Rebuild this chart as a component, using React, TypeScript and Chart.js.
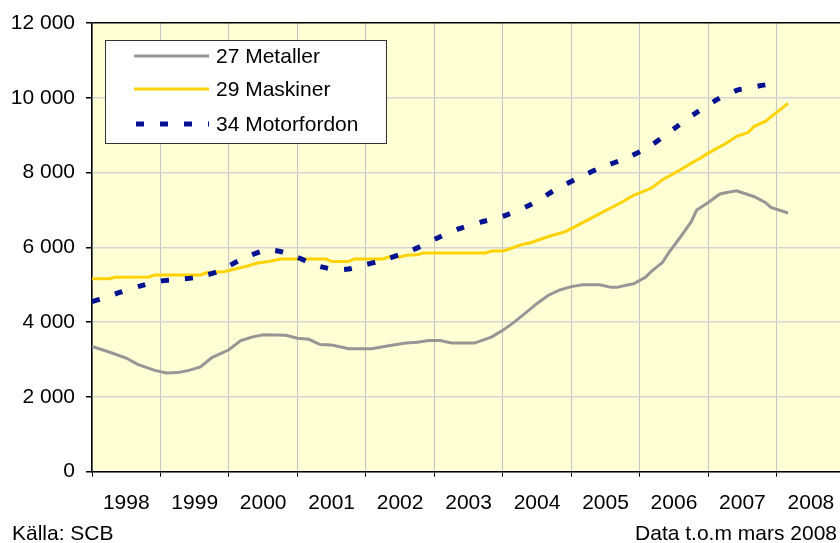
import React, { useEffect, useRef } from "react";
import { Chart, registerables } from "chart.js";

Chart.register(...registerables);

// Month index: 0 = Jan 1998
const yearLabels = ["1998", "1999", "2000", "2001", "2002", "2003", "2004", "2005", "2006", "2007", "2008"];

const metallerMonths = [0, 3, 6, 8, 11, 13, 15, 17, 19, 21, 24, 26, 28, 30, 34, 36, 38, 40, 42, 45, 49, 52, 55, 57, 59, 61, 63, 67, 70, 72, 74, 76, 78, 80, 82, 84, 86, 89, 91, 92, 94, 95, 97, 98, 100, 101, 103, 105, 106, 108, 110, 111, 113, 114, 116, 118, 119, 122];
const metallerValues = [3350, 3200, 3040, 2870, 2710, 2640, 2650, 2710, 2800, 3050, 3260, 3500, 3600, 3660, 3650, 3570, 3540, 3400, 3390, 3290, 3290, 3370, 3440, 3460, 3510, 3510, 3440, 3440, 3600, 3780, 4000, 4250, 4500, 4720, 4860, 4950, 5000, 5000, 4930, 4930, 5000, 5030, 5200, 5350, 5600, 5840, 6250, 6680, 7000, 7200, 7420, 7460, 7510, 7460, 7360, 7200, 7070, 6920];

const maskinerMonths = [0, 3, 4, 10, 11, 19, 20, 23, 24, 27, 29, 31, 33, 41, 42, 45, 46, 51, 52, 54, 55, 57, 58, 69, 70, 72, 73, 75, 77, 80, 83, 85, 87, 89, 91, 93, 95, 98, 100, 103, 105, 107, 108, 111, 113, 115, 116, 118, 120, 122];
const maskinerValues = [5160, 5160, 5200, 5210, 5260, 5260, 5320, 5350, 5380, 5490, 5580, 5620, 5690, 5690, 5620, 5620, 5690, 5690, 5740, 5740, 5790, 5800, 5850, 5850, 5900, 5900, 5950, 6060, 6130, 6290, 6420, 6580, 6740, 6900, 7060, 7220, 7400, 7580, 7810, 8060, 8250, 8420, 8520, 8770, 8970, 9070, 9230, 9370, 9610, 9850];

const motorMonths = [0, 2, 5, 9, 12, 14, 18, 20, 22, 26, 30, 32, 35, 39, 41, 43, 45, 47, 51, 56, 60, 64, 68, 72, 77, 81, 85, 89, 94, 98, 102, 106, 110, 113, 115, 117, 119];
const motorValues = [4550, 4640, 4800, 4990, 5100, 5130, 5190, 5260, 5350, 5660, 5910, 5920, 5800, 5530, 5450, 5400, 5420, 5500, 5660, 5920, 6210, 6480, 6670, 6830, 7150, 7520, 7840, 8120, 8410, 8730, 9170, 9610, 9990, 10200, 10260, 10320, 10370];

const seriesLabels = ["27 Metaller", "29 Maskiner", "34 Motorfordon"];
const sourceText = "Källa: SCB";
const noteText = "Data t.o.m mars 2008";

const FONT = "'Liberation Sans', Arial, sans-serif";
const FS = 21;

function toPoints(xs: number[], ys: number[]) {
  return xs.map((x, i) => ({ x, y: ys[i] }));
}

const fmt = (v: number) => String(v).replace(/\B(?=(\d{3})+(?!\d))/g, " ");

export default function App() {
  const ref = useRef<HTMLCanvasElement | null>(null);

  useEffect(() => {
    if (!ref.current) return;

    const bgPlugin = {
      id: "bg",
      beforeDraw(chart: any) {
        const { ctx, chartArea } = chart;
        ctx.save();
        ctx.fillStyle = "#FFFFD5";
        ctx.fillRect(chartArea.left, chartArea.top, chartArea.right - chartArea.left, chartArea.bottom - chartArea.top);
        ctx.restore();
      },
    };

    const legendPlugin = {
      id: "customLegend",
      afterDraw(chart: any) {
        const { ctx } = chart;
        ctx.save();
        ctx.fillStyle = "#FFFFFF";
        ctx.fillRect(105, 40, 282, 104);
        ctx.strokeStyle = "#333333";
        ctx.lineWidth = 1;
        ctx.strokeRect(105.5, 40.5, 281, 103);
        const rows = [56, 89, 124];
        chart.data.datasets.forEach((ds: any, i: number) => {
          ctx.beginPath();
          ctx.strokeStyle = ds.borderColor;
          ctx.lineWidth = ds.borderWidth;
          ctx.lineCap = "butt";
          ctx.setLineDash(ds.borderDash || []);
          ctx.moveTo(i === 2 ? 136 : 134, rows[i]);
          ctx.lineTo(209, rows[i]);
          ctx.stroke();
          ctx.setLineDash([]);
          ctx.fillStyle = "#000";
          ctx.font = `${FS}px ${FONT}`;
          ctx.textBaseline = "middle";
          ctx.textAlign = "left";
          ctx.fillText(ds.label, 216, rows[i] + 1);
        });
        ctx.font = `${FS}px ${FONT}`;
        ctx.textBaseline = "alphabetic";
        ctx.fillStyle = "#000";
        ctx.textAlign = "left";
        ctx.fillText(sourceText, 12, 540);
        ctx.textAlign = "right";
        ctx.fillText(noteText, 837, 540);
        ctx.restore();
      },
    };

    const chart = new Chart(ref.current, {
      type: "line",
      data: {
        datasets: [
          {
            label: seriesLabels[0],
            data: toPoints(metallerMonths, metallerValues),
            borderColor: "#969696",
            borderWidth: 3,
            pointRadius: 0,
            tension: 0,
            order: 3,
          },
          {
            label: seriesLabels[1],
            data: toPoints(maskinerMonths, maskinerValues),
            borderColor: "#FFD200",
            borderWidth: 3,
            pointRadius: 0,
            tension: 0,
            order: 2,
          },
          {
            label: seriesLabels[2],
            data: toPoints(motorMonths, motorValues),
            borderColor: "#00128F",
            borderWidth: 5,
            borderDash: [8, 16],
            borderCapStyle: "butt",
            pointRadius: 0,
            tension: 0.3,
            order: 1,
          },
        ] as any,
      },
      options: {
        animation: false,
        responsive: false,
        devicePixelRatio: 1,
        layout: { padding: { top: 23, left: 0, right: 0, bottom: 0 } },
        plugins: { legend: { display: false }, tooltip: { enabled: false } },
        scales: {
          x: {
            type: "linear",
            min: 0,
            max: 131.1,
            afterBuildTicks(scale: any) {
              const t = [];
              for (let v = 0; v <= 126; v += 6) t.push({ value: v });
              scale.ticks = t;
            },
            afterFit(scale: any) {
              scale.height = 71.3;
              scale.paddingLeft = 0;
              scale.paddingRight = 0;
            },
            grid: {
              color: (c: any) => (c.tick && c.tick.value % 12 === 0 ? "#C4C4C4" : "rgba(0,0,0,0)"),
              tickColor: (c: any) => (c.tick && c.tick.value % 12 === 0 ? "#000" : "rgba(0,0,0,0)"),
              tickLength: 5,
              lineWidth: 1,
            },
            border: { display: true, color: "#000", width: 1.5 },
            ticks: {
              autoSkip: false,
              maxRotation: 0,
              minRotation: 0,
              padding: 14,
              color: "#000",
              font: { family: FONT, size: FS },
              callback: (v: any) => {
                const n = Number(v);
                return n % 12 === 6 ? yearLabels[(n - 6) / 12] : "";
              },
            },
          },
          y: {
            min: 0,
            max: 12000,
            afterFit(scale: any) {
              scale.width = 92;
              scale.paddingTop = 0;
              scale.paddingBottom = 0;
            },
            grid: {
              color: (c: any) => (c.tick && c.tick.value === 12000 ? "#000" : "#D4D4D4"),
              tickColor: "#000",
              tickLength: 6,
              lineWidth: 1.5,
            },
            border: { display: true, color: "#000", width: 1.5 },
            ticks: {
              stepSize: 2000,
              padding: 11,
              color: "#000",
              font: { family: FONT, size: FS },
              callback: (v: any) => fmt(Number(v)),
            },
          },
        },
      } as any,
      plugins: [bgPlugin, legendPlugin],
    });

    return () => chart.destroy();
  }, []);

  return (
    <div style={{ position: "fixed", left: 0, top: 0, width: 840, height: 543, background: "#fff" }}>
      <canvas ref={ref} width={840} height={543} style={{ display: "block", width: 840, height: 543 }} />
    </div>
  );
}
